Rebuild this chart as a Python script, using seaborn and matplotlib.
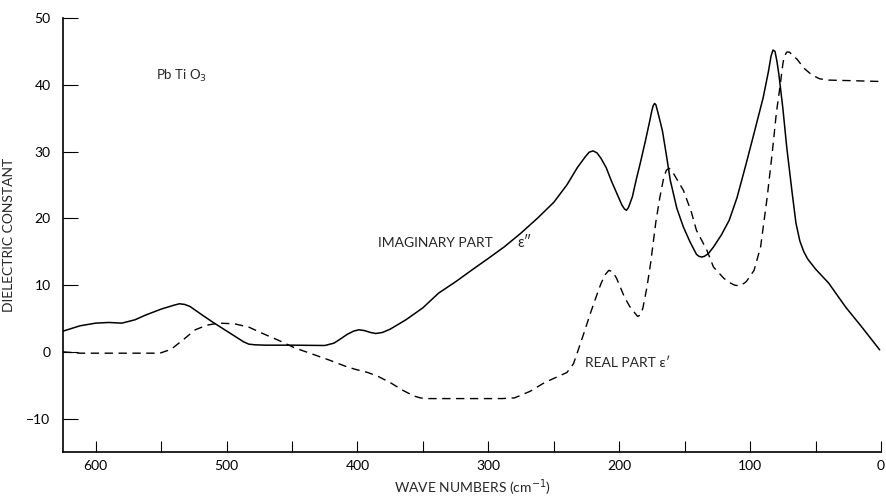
import numpy as np
import pandas as pd
import matplotlib
matplotlib.use("Agg")
import matplotlib.pyplot as plt
import seaborn as sns

# Imaginary part (solid curve)
wn_imag = [625, 612, 600, 590, 580, 570, 562, 550, 540, 536, 532, 528, 520, 511, 495, 487, 483, 478, 470,
           450, 425, 418, 414, 408, 403, 399, 395, 390, 386, 381, 375, 363, 350, 338, 325, 313, 300, 288,
           275, 262, 250, 240, 232, 226, 223, 220, 217, 214, 210, 206, 202, 198, 196, 194.5, 193, 190, 187,
           184, 180, 177, 175, 174, 173, 172, 170, 167, 164, 161, 156, 151, 146, 141, 139, 137, 135, 132, 128, 122,
           116, 110, 103, 96, 90, 86, 84, 82.5, 81, 79.5, 78, 75, 72, 68, 65, 62, 59, 56, 50, 40,
           27, 15, 1]
eps_imag = [3.1, 3.9, 4.3, 4.4, 4.3, 4.8, 5.5, 6.4, 7.0, 7.2, 7.1, 6.8, 5.7, 4.5, 2.5, 1.5, 1.15, 1.05, 1.0,
            1.0, 0.95, 1.3, 1.8, 2.6, 3.1, 3.3, 3.2, 2.9, 2.75, 2.9, 3.4, 4.8, 6.6, 8.8, 10.5, 12.2, 14.0, 15.7,
            17.8, 20.1, 22.4, 25.0, 27.6, 29.2, 29.9, 30.1, 29.8, 29.0, 27.6, 25.6, 23.8, 22.0, 21.4, 21.2, 21.6, 23.2, 25.8,
            28.2, 31.6, 34.3, 36.2, 36.9, 37.2, 37.0, 35.5, 33.1, 29.5, 25.7, 21.5, 18.7, 16.5, 14.6, 14.3, 14.2, 14.3, 14.7, 15.7, 17.5,
            19.7, 23.1, 28.2, 33.5, 38.1, 42.0, 44.3, 45.2, 45.0, 43.5, 41.5, 36.5, 30.6, 24.0, 19.3, 16.6, 15.0, 13.9, 12.4, 10.3,
            6.7, 3.8, 0.3]

# Real part (dashed curve)
wn_real = [625, 612, 580, 551, 545, 541, 532, 524, 515, 506, 494, 483, 473, 460, 448,
           435, 422, 410, 402, 392, 384, 375, 365, 357, 352, 345, 320, 290, 280, 274, 268, 257,
           248, 240, 235, 232, 227, 222, 217, 214, 211, 208, 205, 202, 199, 196, 192, 188, 186, 184, 182,
           179, 176, 172, 169, 166, 164, 162, 160, 157, 151, 145, 141, 133, 128, 120, 116, 112, 109, 106, 103,
           97, 92, 87, 83, 80, 77, 75, 74, 72, 70, 68, 64, 59, 53, 47, 40, 20, 2]
eps_real = [0.0, -0.2, -0.2, -0.2, 0.2, 0.6, 2.0, 3.3, 4.0, 4.3, 4.2, 3.7, 2.8, 1.7, 0.6,
            -0.3, -1.2, -2.1, -2.6, -3.1, -3.7, -4.6, -5.8, -6.6, -6.9, -7.0, -7.0, -7.0, -6.9, -6.4, -5.9, -4.6,
            -3.8, -3.1, -1.8, -0.1, 2.8, 5.8, 8.6, 10.2, 11.5, 12.2, 12.0, 11.0, 9.6, 8.2, 6.8, 5.8, 5.3, 5.5, 6.5,
            9.5, 13.3, 19.5, 23.1, 26.1, 27.2, 27.5, 27.2, 26.2, 24.2, 21.0, 18.2, 15.2, 12.7, 11.0, 10.4, 10.0, 9.9, 10.1, 10.5,
            12.2, 15.7, 23.1, 30.0, 35.7, 40.0, 43.1, 44.2, 44.9, 44.9, 44.5, 43.8, 42.5, 41.5, 40.9, 40.7, 40.6, 40.5]

y_ticks = [-10, 0, 10, 20, 30, 40, 50]
x_ticks = [600, 500, 400, 300, 200, 100, 0]
x_minor = [550, 450, 350, 250, 150, 50]

sns.set_style("ticks")
plt.rcParams['font.family'] = ['Lato', 'DejaVu Sans']

fig = plt.figure(figsize=(8.87, 5.0), dpi=100)
ax = fig.add_axes([63/887, 48/500, (881-63)/887, (452-18)/500])

df_i = pd.DataFrame({"wn": wn_imag, "eps": eps_imag})
df_r = pd.DataFrame({"wn": wn_real, "eps": eps_real})
sns.lineplot(data=df_i, x="wn", y="eps", ax=ax, color="black", lw=1.1,
             estimator=None, sort=False)
sns.lineplot(data=df_r, x="wn", y="eps", ax=ax, color="black", lw=1.0,
             estimator=None, sort=False)
ax.lines[1].set_dashes([6, 4])
for ln in ax.lines:
    ln.set_solid_joinstyle('round')
    ln.set_dash_joinstyle('round')

ax.set_xlim(625, 0)
ax.set_ylim(-15, 50)
ax.set_yticks(y_ticks)
ax.set_xticks(x_ticks)
ax.set_xticks(x_minor, minor=True)
ax.tick_params(axis='y', direction='in', length=11, width=0.8, labelsize=10, pad=9, colors='black')
ax.tick_params(axis='x', which='both', direction='in', length=8, width=0.8, labelsize=10, pad=6, colors='black')
for s in ['top', 'right']:
    ax.spines[s].set_visible(False)
for s in ['left', 'bottom']:
    ax.spines[s].set_linewidth(1.2)
    ax.spines[s].set_color('black')

ax.set_xlabel("WAVE NUMBERS (cm$^{-1}$)", fontsize=10, labelpad=4)
ax.set_ylabel("DIELECTRIC CONSTANT", fontsize=10, labelpad=8)

ax.text(554, 41.3, "Pb Ti O$_3$", fontsize=9.5, va='center', ha='left')
ax.text(384, 16.3, "IMAGINARY PART", fontsize=10, va='center', ha='left')
ax.text(278, 16.3, "\u03b5\u2033", fontsize=10.5, va='center', ha='left')
ax.text(226, -1.6, "REAL PART \u03b5\u2032", fontsize=10, va='center', ha='left')

fig.savefig("out.png", dpi=100)
